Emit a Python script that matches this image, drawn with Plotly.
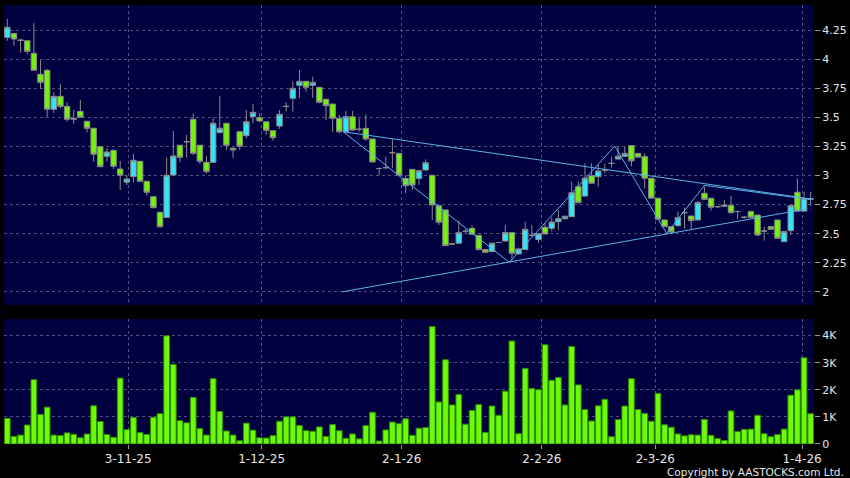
import plotly.graph_objects as go

# ---------------- data ----------------
opens = [4.187, 4.22, 4.165, 4.158, 4.05, 3.869, 3.904, 3.569, 3.68, 3.594,
         3.483, 3.551, 3.466, 3.406, 3.248, 3.165, 3.216, 3.056, 2.942, 2.99,
         3.122, 2.95, 2.818, 2.684, 2.64, 3.004, 3.26, 3.29, 3.483, 3.26,
         3.113, 3.113, 3.368, 3.449, 3.234, 3.376, 3.342, 3.505, 3.497, 3.462,
         3.385, 3.425, 3.594, 3.663, 3.775, 3.809, 3.775, 3.758, 3.655, 3.614,
         3.491, 3.376, 3.505, 3.397, 3.405, 3.314, 3.06, 3.067, 3.196, 3.19,
         2.974, 3.053, 2.974, 3.047, 3.002, 2.741, 2.704, 2.412, 2.418, 2.52,
         2.546, 2.486, 2.363, 2.346, 2.424, 2.437, 2.509, 2.326, 2.363, 2.486,
         2.45, 2.555, 2.546, 2.603, 2.629, 2.646, 2.904, 2.823, 2.997, 2.99,
         3.047, 3.104, 3.141, 3.165, 3.257, 3.19, 3.162, 2.976, 2.805, 2.618,
         2.56, 2.569, 2.68, 2.652, 2.618, 2.847, 2.805, 2.732, 2.735, 2.744,
         2.69, 2.641, 2.69, 2.66, 2.523, 2.56, 2.618, 2.432, 2.526, 2.856,
         2.694, 2.80]
highs = [4.345, 4.225, 4.175, 4.16, 4.31, 3.99, 3.915, 3.715, 3.783, 3.629,
         3.563, 3.649, 3.466, 3.406, 3.25, 3.234, 3.225, 3.125, 3.002, 3.185,
         3.125, 2.95, 2.818, 2.684, 3.156, 3.382, 3.26, 3.348, 3.534, 3.26,
         3.168, 3.497, 3.683, 3.449, 3.24, 3.376, 3.563, 3.614, 3.534, 3.462,
         3.385, 3.563, 3.63, 3.806, 3.906, 3.809, 3.849, 3.758, 3.655, 3.614,
         3.52, 3.554, 3.554, 3.491, 3.526, 3.314, 3.07, 3.162, 3.311, 3.19,
         3.0, 3.053, 3.05, 3.139, 3.002, 2.741, 2.704, 2.42, 2.61, 2.54,
         2.57, 2.486, 2.365, 2.425, 2.43, 2.575, 2.509, 2.38, 2.603, 2.575,
         2.50, 2.59, 2.64, 2.704, 2.65, 2.947, 2.947, 3.104, 3.104, 3.096,
         3.10, 3.16, 3.247, 3.25, 3.257, 3.19, 3.19, 2.976, 2.805, 2.618,
         2.56, 2.69, 2.723, 2.652, 2.78, 2.904, 2.805, 2.74, 2.79, 2.824,
         2.70, 2.65, 2.70, 2.66, 2.56, 2.565, 2.618, 2.52, 2.75, 2.976,
         2.86, 2.86]
lows = [4.158, 4.115, 4.055, 4.041, 3.90, 3.743, 3.505, 3.537, 3.58, 3.462,
        3.443, 3.50, 3.371, 3.119, 3.07, 3.119, 3.056, 2.875, 2.918, 2.942,
        2.945, 2.826, 2.723, 2.551, 2.64, 3.0, 3.113, 3.153, 3.176, 3.10,
        3.019, 3.113, 3.368, 3.217, 3.15, 3.22, 3.32, 3.449, 3.46, 3.35,
        3.30, 3.401, 3.55, 3.548, 3.668, 3.72, 3.668, 3.62, 3.477, 3.376,
        3.363, 3.37, 3.39, 3.376, 3.30, 3.116, 3.0, 3.06, 3.062, 2.99,
        2.847, 2.873, 2.918, 3.04, 2.618, 2.575, 2.397, 2.40, 2.418, 2.50,
        2.49, 2.36, 2.335, 2.34, 2.42, 2.43, 2.26, 2.32, 2.36, 2.475,
        2.42, 2.497, 2.52, 2.532, 2.62, 2.646, 2.766, 2.82, 2.93, 2.904,
        3.02, 3.07, 3.14, 3.16, 3.08, 3.157, 2.89, 2.805, 2.625, 2.56,
        2.50, 2.56, 2.543, 2.54, 2.618, 2.79, 2.70, 2.72, 2.73, 2.68,
        2.625, 2.63, 2.641, 2.48, 2.44, 2.535, 2.46, 2.43, 2.489, 2.69,
        2.69, 2.74]
closes = [4.273, 4.173, 4.16, 4.067, 3.904, 3.80, 3.569, 3.68, 3.594, 3.483,
          3.49, 3.50, 3.406, 3.183, 3.076, 3.202, 3.079, 3.002, 2.97, 3.131,
          2.95, 2.856, 2.723, 2.56, 3.002, 3.168, 3.156, 3.29, 3.191, 3.122,
          3.033, 3.449, 3.406, 3.26, 3.22, 3.251, 3.462, 3.543, 3.469, 3.388,
          3.325, 3.526, 3.594, 3.749, 3.809, 3.758, 3.80, 3.629, 3.60, 3.491,
          3.376, 3.505, 3.39, 3.397, 3.314, 3.116, 3.06, 3.067, 3.196, 3.004,
          2.912, 2.918, 3.041, 3.11, 2.747, 2.598, 2.397, 2.412, 2.509, 2.52,
          2.495, 2.363, 2.34, 2.418, 2.424, 2.509, 2.331, 2.369, 2.537, 2.486,
          2.50, 2.497, 2.60, 2.629, 2.65, 2.852, 2.766, 2.977, 2.933, 3.039,
          3.047, 3.104, 3.165, 3.19, 3.126, 3.157, 2.976, 2.805, 2.625, 2.56,
          2.515, 2.638, 2.68, 2.612, 2.767, 2.795, 2.727, 2.732, 2.745, 2.68,
          2.69, 2.641, 2.641, 2.489, 2.523, 2.538, 2.46, 2.518, 2.741, 2.694,
          2.80, 2.80]
volumes = [950, 280, 330, 700, 2370, 1090, 1360, 330, 310, 410,
           360, 230, 370, 1410, 830, 350, 250, 2430, 530, 980,
           420, 350, 990, 1120, 3990, 2940, 860, 780, 1720, 570,
           330, 2410, 1200, 480, 330, 120, 770, 510, 230, 220,
           310, 840, 1000, 1000, 680, 490, 470, 630, 280, 720,
           490, 210, 370, 190, 680, 1170, 110, 520, 810, 750,
           930, 320, 580, 610, 4330, 1550, 3110, 1440, 1830, 730,
           1240, 1460, 430, 1400, 1060, 1950, 3800, 380, 2790, 2050,
           2000, 3660, 2350, 2450, 1440, 3600, 2180, 1270, 850, 1410,
           1650, 270, 900, 1400, 2410, 1270, 1130, 840, 1870, 710,
           620, 370, 300, 340, 330, 910, 320, 200, 130, 1220,
           460, 540, 550, 1060, 380, 270, 350, 550, 1800, 2000,
           3180, 1120]
bar_index = list(range(len(closes)))

tick_pos = [18.2, 38.3, 59.4, 80.5, 97.6, 119.7]
tick_labels = ["3-11-25", "1-12-25", "2-1-26", "2-2-26", "2-3-26", "1-4-26"]

price_ticks = [2.0, 2.25, 2.5, 2.75, 3.0, 3.25, 3.5, 3.75, 4.0, 4.25]
price_tick_labels = ["2", "2.25", "2.5", "2.75", "3", "3.25", "3.5", "3.75", "4", "4.25"]
vol_ticks = [0, 1000, 2000, 3000, 4000]
vol_tick_labels = ["0", "1K", "2K", "3K", "4K"]

# trend lines (bar index, price)
upper_line_x = [50.6, 121.4]
upper_line_y = [3.376, 2.795]
lower_line_x = [50.4, 120.4]
lower_line_y = [2.0, 2.712]
zigzag_x = [50.6, 75.6, 91.5, 99.3, 105.0, 121.0]
zigzag_y = [3.376, 2.254, 3.253, 2.503, 2.915, 2.794]

# ---------------- styling ----------------
UP = "#33e4f6"
DOWN = "#74f20e"
EDGE = "#8a8a8a"
LINE = "#5ab2e8"
GRID = "#50507f"
PANEL = "#00003f"
TXT = "#e6e6e6"
FONT = "DejaVu Sans"

fig = go.Figure()

fig.add_trace(go.Candlestick(
    x=bar_index, open=opens, high=highs, low=lows, close=closes,
    increasing=dict(fillcolor=UP, line=dict(color=EDGE, width=1)),
    decreasing=dict(fillcolor=DOWN, line=dict(color=EDGE, width=1)),
    whiskerwidth=0, showlegend=False, xaxis="x", yaxis="y", hoverinfo="skip",
))

for lx, ly in [(upper_line_x, upper_line_y), (lower_line_x, lower_line_y), (zigzag_x, zigzag_y)]:
    fig.add_trace(go.Scatter(x=lx, y=ly, mode="lines",
                             line=dict(color=LINE, width=1),
                             showlegend=False, xaxis="x", yaxis="y", hoverinfo="skip"))

fig.add_trace(go.Bar(
    x=bar_index, y=volumes,
    marker=dict(color="#6cfa0a", line=dict(color="#2e8a00", width=1)),
    showlegend=False, xaxis="x2", yaxis="y2", hoverinfo="skip",
))

axis_common = dict(showline=False, zeroline=False, gridcolor=GRID, gridwidth=1,
                   griddash="3px,3px")

fig.update_layout(
    width=850, height=478,
    margin=dict(l=4, r=36, t=5, b=34, autoexpand=False),
    paper_bgcolor="#000000",
    plot_bgcolor=PANEL,
    boxgap=0.18,
    boxgroupgap=0,
    bargap=0.14,
    font=dict(family=FONT, size=11, color=TXT),
    xaxis=dict(domain=[0, 1], range=[-0.5, 121.5], tickmode="array",
               tickvals=tick_pos, ticktext=tick_labels, showticklabels=False,
               ticks="", anchor="y", rangeslider=dict(visible=False),
               showgrid=True, **axis_common),
    yaxis=dict(domain=[0.3166, 1], range=[1.887, 4.465], side="right",
               tickmode="array", tickvals=price_ticks, ticktext=price_tick_labels,
               ticks="outside", ticklen=5, tickcolor="#9a9a9a", anchor="x",
               tickfont=dict(size=11, color=TXT), showgrid=True, **axis_common),
    xaxis2=dict(domain=[0, 1], range=[-0.5, 121.5], tickmode="array",
                tickvals=tick_pos, ticktext=tick_labels, ticks="outside",
                ticklen=4, tickcolor="#9a9a9a", anchor="y2", matches="x",
                tickfont=dict(size=12, color=TXT), showgrid=True, **axis_common),
    yaxis2=dict(domain=[0, 0.2847], range=[0, 4610], side="right",
                tickmode="array", tickvals=vol_ticks, ticktext=vol_tick_labels,
                ticks="outside", ticklen=5, tickcolor="#9a9a9a", anchor="x2",
                tickfont=dict(size=11, color=TXT), showgrid=True, **axis_common),
    annotations=[dict(text="Copyright by AASTOCKS.com Ltd.", xref="paper", yref="paper",
                      x=1, y=0, xanchor="right", yanchor="middle",
                      xshift=32, yshift=-28,
                      showarrow=False, font=dict(family=FONT, size=10.5, color=TXT))],
)

fig.write_html("out.html", config={"displayModeBar": False},
               post_script="document.body.style.margin='0px';document.body.style.background='#000';")
